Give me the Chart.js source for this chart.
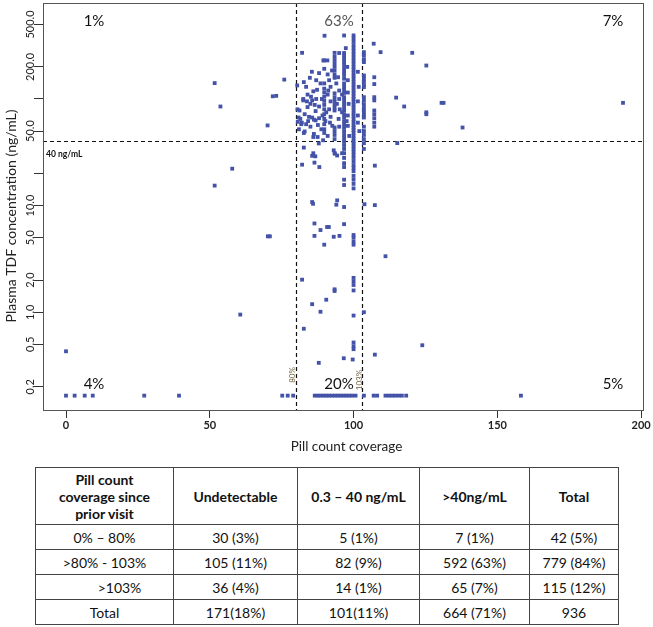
<!DOCTYPE html>
<html>
<head>
<meta charset="utf-8">
<script src="https://cdn.jsdelivr.net/npm/chart.js@4.4.1/dist/chart.umd.min.js"></script>
<style>
  body { margin: 0; background: #fff; font-family: Lato, "Open Sans", sans-serif; }
  #wrap { position: relative; width: 653px; height: 627px; }
  #chartCanvas { position: absolute; left: 0; top: 0; }
  #tbl { position: absolute; left: 35px; top: 467px; border-collapse: collapse; font-size: 14px; color: #111; }
  #tbl td, #tbl th { border: 1px solid #444; text-align: center; padding: 0; }
  #tbl th { font-weight: bold; height: 56px; line-height: 17px; }
  #tbl td { height: 24px; }
</style>
</head>
<body>
<div id="wrap">
  <canvas id="chartCanvas" width="653" height="460"></canvas>
  <table id="tbl"></table>
</div>
<script>
// --- axis ticks ---
const xTicks = [0, 50, 100, 150, 200];
const yTicks = [0.2, 0.5, 1, 2, 5, 10, 20, 50, 100, 200, 500];
const yTickLabels = ["0.2", "0.5", "1.0", "2.0", "5.0", "10.0", "", "50.0", "", "200.0", "500.0"];

// cut-offs
const cutoffConc = 40;
const coverageCuts = [80, 103];
const quadrantLabels = ["1%", "63%", "7%", "4%", "20%", "5%"];

// undetectable samples, plotted at the bottom row
const undetectLevel = 0.165;
const undetectX = [0, 3, 6.5, 9.3, 27.2, 39.3, 75.2, 77.1, 79, 86.5, 87.5, 88.5, 89.5, 90.5, 91.5,
  92.5, 93.5, 94.5, 95.5, 96.5, 97.5, 98.5, 99.5, 100.7, 103.6, 107, 108.2, 111.1, 112.3, 113.4,
  114.5, 115.7, 116.8, 118.3, 158.2];

// coverage < 80%
const lowCoverage = [[0, 0.43], [60.6, 0.95], [70.2, 5.15], [70.9, 5.15], [51.7, 15.4], [57.8, 22.2],
  [70.1, 56.5], [53.7, 85], [71.9, 106], [73.1, 107], [51.7, 141], [75.9, 152]];

// coverage > 103%
const highCoverage = [[107, 330], [109.4, 275], [120.4, 271], [125.3, 206], [114.8, 103], [117.6, 85],
  [125.3, 72], [125.3, 75], [130.6, 92], [131.3, 92], [137.9, 54], [193.7, 92], [115.2, 38.6],
  [111.1, 3.35], [123.9, 0.49], [107.4, 0.40], [107.4, 10.1], [107.4, 23.7], [103.8, 10.3], [103.6, 1.0]];

// stacked columns (same coverage value)
const col100Y = [395, 370, 345, 320, 300, 280, 262, 245, 230, 215, 200, 188, 176, 165, 155, 145, 136,
  128, 120, 113, 106, 100, 94, 88, 83, 78, 73, 69, 65, 61, 57, 54, 51, 48, 45, 42.5, 40, 38, 36, 34,
  32, 30, 28, 26, 24, 22.5, 21, 19, 17.5, 16, 14.5, 5.3, 5.0, 4.6, 4.3, 2.1, 1.95, 1.8, 1.6, 0.93,
  0.52, 0.48, 0.45];
const col97Y = [394, 270, 255, 240, 225, 210, 195, 180, 168, 155, 140, 130, 122, 114, 104, 97, 90, 84,
  78, 72, 67, 62, 58, 54, 50, 46, 43, 40, 37, 34, 31, 28, 25, 23, 17.5, 15.6, 9.7, 6.7];
const col93Y = [271, 250, 232, 215, 200, 185, 170, 158, 113, 104, 96, 89, 83, 78, 54, 50, 46, 42, 31,
  1.58, 1.64];
const col90Y = [230, 192, 140, 125, 115, 105, 96, 88, 80, 72, 65, 58, 52, 48, 4.3];
const col103Y = [275, 255, 235, 222, 166, 155, 145, 135, 129, 104, 96, 88, 82, 76, 71, 67, 55, 50, 46,
  42, 38.5, 34];
const col107Y = [160, 138, 104, 97, 78, 72, 66, 60, 55];

// other points between 80% and 103%
const midCoverage = [[80.4, 134], [82.1, 271], [82.7, 144], [84.8, 158], [86, 118], [87.3, 122],
  [90.9, 230], [89.9, 392], [82.5, 97], [85.6, 97], [80.9, 67], [81.5, 65], [83, 49.6], [85.6, 67],
  [86.2, 64], [86.8, 63], [86, 44], [87.9, 38.3], [89.4, 41], [82.7, 48], [86.2, 47], [80.5, 80],
  [81.2, 78], [83, 72], [84.5, 68], [85, 90], [87, 100], [88, 85], [82, 60], [83.5, 58], [85, 55],
  [88, 66], [87.5, 44], [91, 45], [81, 52], [82.5, 100], [84, 110], [88.5, 140], [91.5, 150],
  [91, 110], [92, 95], [91.5, 80], [92, 68], [91.8, 60], [95, 120], [95, 100], [95.2, 80], [94.8, 65],
  [95, 55], [98, 150], [98, 115], [98.3, 90], [98, 70], [98, 56], [98.5, 45], [101.5, 180],
  [101.5, 95], [101.5, 70], [102, 50], [92, 130], [88, 175], [85.5, 180], [83.5, 130], [89.5, 230],
  [95, 270], [97.3, 300], [94.6, 160], [92.5, 185], [87, 150], [86.5, 88], [89, 100],
  [90.5, 75], [84, 84], [88.8, 52], [81.8, 58], [80.6, 61], [84.2, 62], [87.6, 57], [90.2, 62],
  [92.6, 56], [94.2, 90], [96, 75], [97.6, 62], [94, 140], [96, 110], [91.2, 120], [89.2, 70],
  [86.8, 77], [85.2, 105], [83.8, 95], [91, 170], [97.8, 200], [101.8, 130], [101.5, 60],
  [82.1, 24.2], [85.6, 29.3], [86.4, 25.3], [88.1, 23], [93.5, 30.7],
  [94.3, 29.5], [86, 31], [86.7, 29], [93.1, 33], [96, 31], [82.7, 35], [85.6, 10.8], [85.9, 10.4],
  [94.3, 11.2], [94, 10.2], [86.4, 6.8], [88.5, 5.9], [90.8, 6.3], [91.4, 6.3], [86.4, 5.2],
  [93.1, 5.1], [95.1, 5.2], [82.1, 2.02], [85.6, 1.19], [90.5, 1.31], [88.5, 1.01], [82.7, 0.70],
  [96.6, 0.37], [99.7, 0.36], [87.9, 0.335]];

// --- table ---
const tableHeaders = [["Pill count", "coverage since", "prior visit"], ["Undetectable"], ["0.3 – 40 ng/mL"], [">40ng/mL"], ["Total"]];
const rowLabels = ["0% – 80%", ">80% - 103%", ">103%", "Total"];
const tableCells = [
  ["30 (3%)", "5 (1%)", "7 (1%)", "42 (5%)"],
  ["105 (11%)", "82 (9%)", "592 (63%)", "779 (84%)"],
  ["36 (4%)", "14 (1%)", "65 (7%)", "115 (12%)"],
  ["171(18%)", "101(11%)", "664 (71%)", "936"]
];
const colWidths = [138, 124, 122, 110, 89];

// --- build points ---
const toPts = arr => arr.map(p => ({ x: p[0], y: p[1] }));
const colPts = (x, ys) => ys.map(v => ({ x, y: v }));

const allPoints = [
  ...undetectX.map(v => ({ x: v, y: undetectLevel })),
  ...toPts(lowCoverage),
  ...toPts(highCoverage),
  ...toPts(midCoverage),
  ...colPts(100, col100Y),
  ...colPts(96.7, col97Y),
  ...colPts(93.4, col93Y),
  ...colPts(89.8, col90Y),
  ...colPts(103.6, col103Y),
  ...colPts(107.2, col107Y)
];

const FONT = "Lato, 'Open Sans', sans-serif";

const annotate = {
  id: "annotate",
  beforeDatasetsDraw(chart) {
    const { ctx, chartArea: a, scales: { x, y } } = chart;
    ctx.save();
    ctx.strokeStyle = "#111";
    ctx.lineWidth = 1.2;
    ctx.setLineDash([4, 3]);
    ctx.beginPath();
    const yc = Math.round(y.getPixelForValue(cutoffConc)) + 0.5;
    ctx.moveTo(a.left, yc);
    ctx.lineTo(a.right, yc);
    coverageCuts.forEach(v => {
      const xp = Math.round(x.getPixelForValue(v)) + 0.5;
      ctx.moveTo(xp, a.top);
      ctx.lineTo(xp, a.bottom);
    });
    ctx.stroke();
    ctx.restore();
  },
  afterDraw(chart) {
    const { ctx, chartArea: a, scales: { x, y } } = chart;
    ctx.save();
    // frame
    ctx.strokeStyle = "#555";
    ctx.lineWidth = 1;
    ctx.strokeRect(a.left + 0.5, a.top + 0.5, a.right - a.left - 1, a.bottom - a.top);

    // y tick labels, rotated like the original
    ctx.fillStyle = "#222";
    ctx.font = "11px " + FONT;
    ctx.textAlign = "center";
    ctx.textBaseline = "middle";
    yTicks.forEach((v, i) => {
      if (!yTickLabels[i]) return;
      const py = y.getPixelForValue(v);
      ctx.save();
      ctx.translate(a.left - 13, py);
      ctx.rotate(-Math.PI / 2);
      ctx.fillText(yTickLabels[i], 0, 0);
      ctx.restore();
    });

    // axis titles
    ctx.font = "14px " + FONT;
    ctx.save();
    ctx.translate(11, 216);
    ctx.rotate(-Math.PI / 2);
    ctx.fillText("Plasma TDF concentration (ng/mL)", 0, 0);
    ctx.restore();
    ctx.font = "13.5px " + FONT;
    ctx.fillText("Pill count coverage", (a.left + a.right) / 2 + 3, 447);

    // quadrant percentages
    ctx.font = "15px " + FONT;
    const qx = [94, 339, 613];
    quadrantLabels.forEach((t, i) => {
      ctx.fillStyle = i === 1 ? "#555" : "#111";
      ctx.fillText(t, qx[i % 3], i < 3 ? 21 : 384);
    });

    // 40 ng/mL label
    ctx.fillStyle = "#111";
    ctx.font = "bold 8.5px " + FONT;
    ctx.textAlign = "left";
    ctx.fillText("40 ng/mL", a.left + 3, y.getPixelForValue(cutoffConc) + 13);

    // 80% / 103% labels
    ctx.font = "8px " + FONT;
    ctx.fillStyle = "#6e5f3c";
    ctx.textAlign = "center";
    [["80%", coverageCuts[0], -4, 375], ["103%", coverageCuts[1], -3, 380]].forEach(([t, v, dx, py]) => {
      ctx.save();
      ctx.translate(x.getPixelForValue(v) + dx, py);
      ctx.rotate(-Math.PI / 2);
      ctx.fillText(t, 0, 0);
      ctx.restore();
    });
    ctx.restore();
  }
};

new Chart(document.getElementById("chartCanvas"), {
  type: "scatter",
  data: {
    datasets: [{
      data: allPoints,
      pointStyle: "rect",
      pointRadius: 2.7,
      pointHoverRadius: 2.7,
      backgroundColor: "#4453a8",
      borderWidth: 0
    }]
  },
  options: {
    responsive: false,
    animation: false,
    layout: { padding: { top: 3, right: 9, left: 0, bottom: 0 } },
    plugins: { legend: { display: false }, tooltip: { enabled: false } },
    scales: {
      x: {
        type: "linear",
        min: -8,
        max: 201,
        afterBuildTicks: s => { s.ticks = xTicks.map(v => ({ value: v })); },
        afterFit: s => { s.height = 50; },
        grid: { drawOnChartArea: false, tickLength: 8, color: "#333" },
        border: { display: false },
        ticks: { padding: 1, maxRotation: 0, color: "#222", font: { family: FONT, size: 11, weight: "bold" } }
      },
      y: {
        type: "logarithmic",
        min: 0.121,
        max: 795,
        afterBuildTicks: s => { s.ticks = yTicks.map(v => ({ value: v })); },
        afterFit: s => { s.width = 43; },
        grid: { drawOnChartArea: false, tickLength: 9, color: "#333" },
        border: { display: false },
        ticks: { display: false }
      }
    }
  },
  plugins: [annotate]
});

// --- table build ---
const tbl = document.getElementById("tbl");
const cg = document.createElement("colgroup");
colWidths.forEach(w => { const c = document.createElement("col"); c.style.width = w + "px"; cg.appendChild(c); });
tbl.appendChild(cg);
const hr = tbl.insertRow();
tableHeaders.forEach(lines => {
  const th = document.createElement("th");
  th.innerHTML = lines.join("<br>");
  hr.appendChild(th);
});
rowLabels.forEach((lab, i) => {
  const tr = tbl.insertRow();
  const c0 = tr.insertCell();
  c0.textContent = lab;
  if (lab === ">103%") c0.style.paddingLeft = "30px";
  tableCells[i].forEach(v => { tr.insertCell().textContent = v; });
});
</script>
</body>
</html>
